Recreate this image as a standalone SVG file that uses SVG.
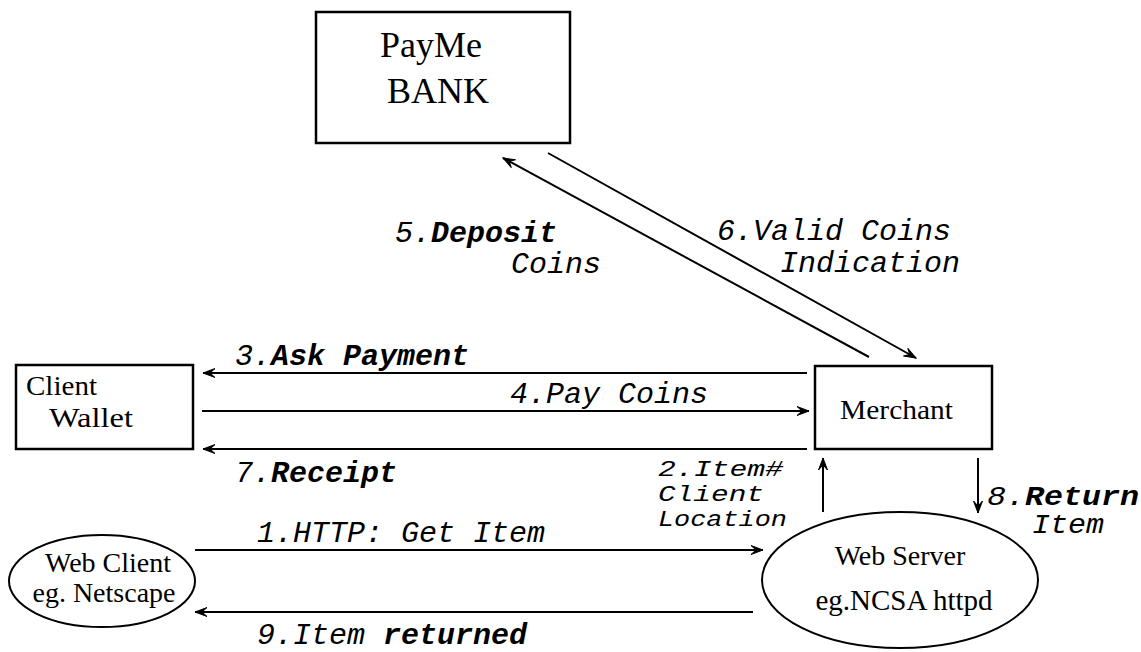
<svg xmlns="http://www.w3.org/2000/svg" width="1141" height="652" viewBox="0 0 1141 652">
<style>
.box{fill:#fff;stroke:#000;stroke-width:2.5}
.ser{font-family:"Liberation Serif","Times New Roman",serif;fill:#000}
.lbl{font-family:"Liberation Mono","Courier New",monospace;font-style:italic;font-size:30px;fill:#000}
.sm{font-size:22px}
.md{font-size:27px}
.b{font-weight:bold}
.con line{stroke:#000;stroke-width:2;fill:none}
</style>
<defs>
<marker id="ah" viewBox="-13 -6 14 12" refX="0" refY="0" markerWidth="14" markerHeight="12" markerUnits="userSpaceOnUse" orient="auto">
<path d="M0,0 L-12,-4.5 L-7,0 L-12,4.5 Z" fill="#000" stroke="#000" stroke-width="1"/>
</marker>
</defs>
<rect width="1141" height="652" fill="#fff"/>
<g id="bank">
<rect class="box" x="316" y="12" width="254" height="131"/>
<text class="ser" x="431" y="57" font-size="36" text-anchor="middle">PayMe</text>
<text class="ser" x="438" y="103" font-size="36" text-anchor="middle">BANK</text>
</g>
<g id="wallet">
<rect class="box" x="16" y="365" width="177" height="84"/>
<text class="ser" x="26" y="395" font-size="28" textLength="71" lengthAdjust="spacingAndGlyphs">Client</text>
<text class="ser" x="49" y="427" font-size="28" textLength="84" lengthAdjust="spacingAndGlyphs">Wallet</text>
</g>
<g id="merchant">
<rect class="box" x="815" y="366" width="177" height="83"/>
<text class="ser" x="840" y="419" font-size="28" textLength="113" lengthAdjust="spacingAndGlyphs">Merchant</text>
</g>
<g id="webclient">
<ellipse cx="102" cy="581" rx="93" ry="46" fill="#fff" stroke="#000" stroke-width="2"/>
<text class="ser" x="108" y="572" font-size="28" text-anchor="middle">Web Client</text>
<text class="ser" x="104" y="602" font-size="28" text-anchor="middle">eg. Netscape</text>
</g>
<g id="webserver">
<ellipse cx="900" cy="580" rx="138" ry="68" fill="#fff" stroke="#000" stroke-width="2"/>
<text class="ser" x="900" y="565" font-size="28" text-anchor="middle">Web Server</text>
<text class="ser" x="904" y="610" font-size="29" text-anchor="middle">eg.NCSA httpd</text>
</g>
<g id="connectors" class="con">
<line x1="869" y1="357" x2="503" y2="158" marker-end="url(#ah)"/>
<line x1="548" y1="153" x2="916" y2="358" marker-end="url(#ah)"/>
<line x1="807" y1="373" x2="203" y2="373" marker-end="url(#ah)"/>
<line x1="202" y1="411" x2="809" y2="411" marker-end="url(#ah)"/>
<line x1="807" y1="449" x2="203" y2="449" marker-end="url(#ah)"/>
<line x1="823" y1="512" x2="823" y2="458" marker-end="url(#ah)"/>
<line x1="978" y1="458" x2="978" y2="513" marker-end="url(#ah)"/>
<line x1="195" y1="550" x2="763" y2="550" marker-end="url(#ah)"/>
<line x1="753" y1="612" x2="195" y2="612" marker-end="url(#ah)"/>
</g>
<g id="labels">
<text class="lbl" x="395" y="242">5.<tspan class="b">Deposit</tspan></text>
<text class="lbl" x="511" y="273">Coins</text>
<text class="lbl" x="717" y="240">6.Valid Coins</text>
<text class="lbl" x="780" y="272">Indication</text>
<text class="lbl" x="235" y="365">3.<tspan class="b">Ask Payment</tspan></text>
<text class="lbl" x="510" y="403">4.Pay Coins</text>
<text class="lbl" x="235" y="482">7.<tspan class="b">Receipt</tspan></text>
<text class="lbl sm" x="658" y="476" textLength="125" lengthAdjust="spacingAndGlyphs">2.Item#</text>
<text class="lbl sm" x="658" y="501" textLength="106" lengthAdjust="spacingAndGlyphs">Client</text>
<text class="lbl sm" x="658" y="526" textLength="129" lengthAdjust="spacingAndGlyphs">Location</text>
<text class="lbl md" x="987" y="505" textLength="152" lengthAdjust="spacingAndGlyphs">8.<tspan class="b">Return</tspan></text>
<text class="lbl md" x="1032" y="533" textLength="72" lengthAdjust="spacingAndGlyphs">Item</text>
<text class="lbl" x="257" y="542">1.HTTP: Get Item</text>
<text class="lbl" x="257" y="644">9.Item <tspan class="b">returned</tspan></text>
</g>
</svg>
